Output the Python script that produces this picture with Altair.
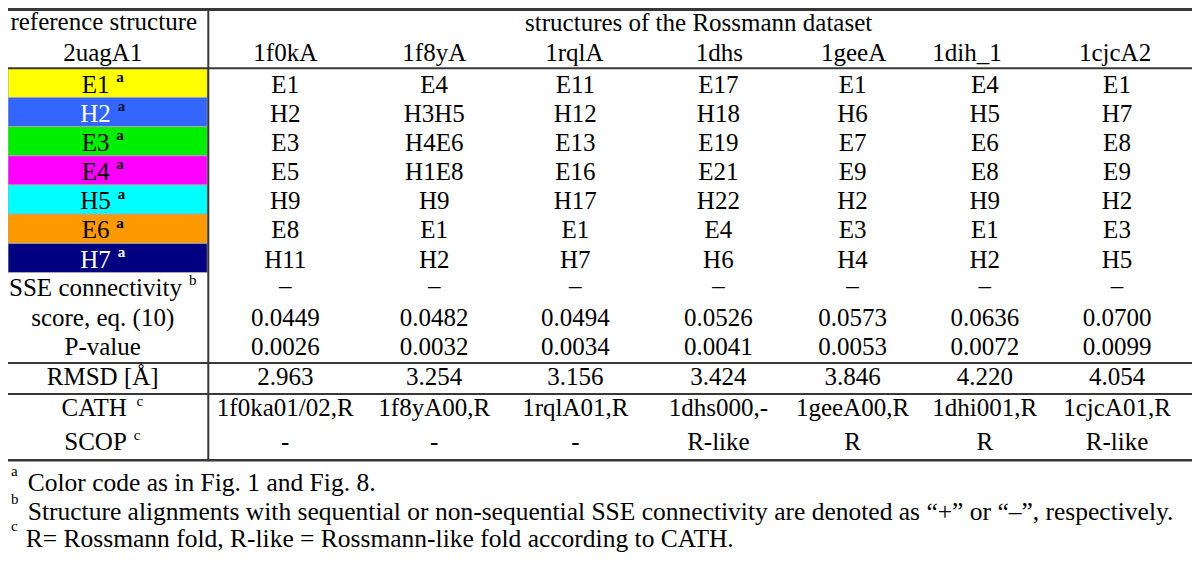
import altair as alt
import pandas as pd

# ---------------- data ----------------
structures = ["1f0kA", "1f8yA", "1rqlA", "1dhs", "1geeA", "1dih_1", "1cjcA2"]
reference_sse = ["E1", "H2", "E3", "E4", "H5", "E6", "H7"]
reference_colors = ["#FFFF00", "#3366FF", "#00EE00", "#FF00FF", "#00FFFF", "#FF9900", "#000080"]
reference_text_colors = ["black", "white", "black", "black", "black", "black", "white"]
reference_sup_colors = ["black", "#101030", "black", "black", "black", "black", "white"]

match_E1 = ["E1", "E4", "E11", "E17", "E1", "E4", "E1"]
match_H2 = ["H2", "H3H5", "H12", "H18", "H6", "H5", "H7"]
match_E3 = ["E3", "H4E6", "E13", "E19", "E7", "E6", "E8"]
match_E4 = ["E5", "H1E8", "E16", "E21", "E9", "E8", "E9"]
match_H5 = ["H9", "H9", "H17", "H22", "H2", "H9", "H2"]
match_E6 = ["E8", "E1", "E1", "E4", "E3", "E1", "E3"]
match_H7 = ["H11", "H2", "H7", "H6", "H4", "H2", "H5"]
connectivity = ["–", "–", "–", "–", "–", "–", "–"]
score = ["0.0449", "0.0482", "0.0494", "0.0526", "0.0573", "0.0636", "0.0700"]
p_value = ["0.0026", "0.0032", "0.0034", "0.0041", "0.0053", "0.0072", "0.0099"]
rmsd = ["2.963", "3.254", "3.156", "3.424", "3.846", "4.220", "4.054"]
cath = ["1f0ka01/02,R", "1f8yA00,R", "1rqlA01,R", "1dhs000,-", "1geeA00,R", "1dhi001,R", "1cjcA01,R"]
scop = ["-", "-", "-", "R-like", "R", "R", "R-like"]

footnotes_sup = ["a", "b", "c"]
footnotes_text = [
    "Color code as in Fig. 1 and Fig. 8.",
    "Structure alignments with sequential or non-sequential SSE connectivity are denoted as \u201c+\u201d or \u201c\u2013\u201d, respectively.",
    "R= Rossmann fold, R-like = Rossmann-like fold according to CATH.",
]

# ---------------- layout ----------------
W, H = 1184, 566
SX = W / 1200.0
FONT = "Liberation Serif"
FS = 25
SUP_FS = 15
FOOT_FS = 25.5
col_x = [281, 432, 575, 720, 856, 990, 1124]
head_x = [281, 432, 574, 721, 857, 972, 1122]
label_cx = 96
row_top = 62
row_h = 30
color_baselines = [row_top + 25 + i * row_h for i in range(7)]
y_conn, y_score, y_p, y_rmsd, y_cath, y_scop = 296, 327, 357, 388, 420, 455

# Times / Liberation Serif advance widths (per 1000 em)
TW = {' ': 250, '(': 333, ')': 333, ',': 250, '-': 333, '.': 250, '/': 278, '[': 333,
      ']': 333, '_': 500, 'Å': 722, '–': 500}
TW.update({d: 500 for d in "0123456789"})
TW.update(dict(zip("ABCDEFGHIJKLMNOPQRSTUVWXYZ",
                   [722, 667, 667, 722, 611, 556, 722, 722, 333, 389, 722, 611, 889, 722, 722,
                    556, 722, 667, 556, 611, 722, 722, 944, 722, 722, 611])))
TW.update(dict(zip("abcdefghijklmnopqrstuvwxyz",
                   [444, 500, 444, 500, 444, 333, 500, 500, 278, 278, 500, 278, 778, 500, 500,
                    500, 500, 333, 389, 278, 500, 500, 722, 500, 500, 444])))


def text_w(s, size):
    return sum(TW.get(c, 500) for c in s) * size / 1000.0 / SX


center_rows = []   # x, y, text, color
left_rows = []     # labels that carry a superscript
sup_rows = []

# header
center_rows.append(dict(x=97, y=23, text="reference structure", color="black"))
center_rows.append(dict(x=96, y=55, text="2uagA1", color="black"))
center_rows.append(dict(x=700, y=24, text="structures of the Rossmann dataset", color="black"))
for s, hx in zip(structures, head_x):
    center_rows.append(dict(x=hx, y=55, text=s, color="black"))


def add_sup_label(label, sup, y, color="black", sup_color="black", bold=True):
    wm = text_w(label, FS)
    ws = 0.5 * SUP_FS / SX
    gap = 7
    start = label_cx - (wm + gap + ws) / 2.0
    left_rows.append(dict(x=start, y=y, text=label, color=color))
    sup_rows.append(dict(x=start + wm + gap, y=y - 11, text=sup, color=sup_color,
                         weight="bold" if bold else "normal"))


match_rows = [match_E1, match_H2, match_E3, match_E4, match_H5, match_E6, match_H7]
for i, sse in enumerate(reference_sse):
    add_sup_label(sse, "a", color_baselines[i], reference_text_colors[i], reference_sup_colors[i])
    for j, v in enumerate(match_rows[i]):
        center_rows.append(dict(x=col_x[j], y=color_baselines[i], text=v, color="black"))

add_sup_label("SSE connectivity", "b", y_conn, bold=False)
add_sup_label("CATH", "c", y_cath, bold=False)
add_sup_label("SCOP", "c", y_scop, bold=False)
center_rows.append(dict(x=96, y=y_score, text="score, eq. (10)", color="black"))
center_rows.append(dict(x=96, y=y_p, text="P-value", color="black"))
center_rows.append(dict(x=96, y=y_rmsd, text="RMSD [Å]", color="black"))

for vals, yy in [(connectivity, y_conn - 2), (score, y_score), (p_value, y_p), (rmsd, y_rmsd),
                 (cath, y_cath), (scop, y_scop)]:
    for j, v in enumerate(vals):
        center_rows.append(dict(x=col_x[j], y=yy, text=v, color="black"))

center_df = pd.DataFrame(center_rows)
left_df = pd.DataFrame(left_rows)
sup_df = pd.DataFrame(sup_rows)

cells_df = pd.DataFrame({
    "x0": [0] * 7, "x1": [202] * 7,
    "y0": [row_top + i * row_h for i in range(7)],
    "y1": [row_top + (i + 1) * row_h for i in range(7)],
    "fill": reference_colors,
})

hlines_df = pd.DataFrame({
    "x0": [0, 0, 0, 0, 0], "x1": [1200] * 5,
    "y": [1.5, 62, 365, 397, 465],
    "w": [3, 2, 2, 2, 2.5],
})
vline_df = pd.DataFrame({"x": [203], "y0": [0], "y1": [466]})

fn_base = [497, 526, 554]
foot_df = pd.DataFrame({"x": [20, 20, 18], "y": fn_base, "text": footnotes_text})
foot_sup_df = pd.DataFrame({"x": [3, 3, 3], "y": [b - 16 for b in fn_base], "text": footnotes_sup})

xs = alt.Scale(domain=[0, 1200], nice=False, zero=False)
ys = alt.Scale(domain=[0, 582], reverse=True, nice=False, zero=False)

cells = alt.Chart(cells_df).mark_rect(stroke="#a8a8a8", strokeWidth=1).encode(
    x=alt.X("x0:Q", scale=xs, axis=None), x2="x1:Q",
    y=alt.Y("y0:Q", scale=ys, axis=None), y2="y1:Q",
    fill=alt.Fill("fill:N", scale=None),
)
hlines = alt.Chart(hlines_df).mark_rule(color="#383838").encode(
    x=alt.X("x0:Q", scale=xs, axis=None), x2="x1:Q",
    y=alt.Y("y:Q", scale=ys, axis=None),
    strokeWidth=alt.StrokeWidth("w:Q", scale=None),
)
vline = alt.Chart(vline_df).mark_rule(color="#383838", strokeWidth=2).encode(
    x=alt.X("x:Q", scale=xs, axis=None),
    y=alt.Y("y0:Q", scale=ys, axis=None), y2="y1:Q",
)
center_txt = alt.Chart(center_df).mark_text(
    font=FONT, fontSize=FS, align="center", baseline="alphabetic").encode(
    x=alt.X("x:Q", scale=xs, axis=None), y=alt.Y("y:Q", scale=ys, axis=None),
    text="text:N", color=alt.Color("color:N", scale=None),
)
left_txt = alt.Chart(left_df).mark_text(
    font=FONT, fontSize=FS, align="left", baseline="alphabetic").encode(
    x=alt.X("x:Q", scale=xs, axis=None), y=alt.Y("y:Q", scale=ys, axis=None),
    text="text:N", color=alt.Color("color:N", scale=None),
)
sup_bold = alt.Chart(sup_df[sup_df.weight == "bold"]).mark_text(
    font=FONT, fontSize=SUP_FS, fontWeight="bold", align="left", baseline="alphabetic").encode(
    x=alt.X("x:Q", scale=xs, axis=None), y=alt.Y("y:Q", scale=ys, axis=None),
    text="text:N", color=alt.Color("color:N", scale=None),
)
sup_norm = alt.Chart(sup_df[sup_df.weight == "normal"]).mark_text(
    font=FONT, fontSize=SUP_FS, align="left", baseline="alphabetic").encode(
    x=alt.X("x:Q", scale=xs, axis=None), y=alt.Y("y:Q", scale=ys, axis=None),
    text="text:N", color=alt.Color("color:N", scale=None),
)
foot = alt.Chart(foot_df).mark_text(
    font=FONT, fontSize=FOOT_FS, align="left", baseline="alphabetic", color="black").encode(
    x=alt.X("x:Q", scale=xs, axis=None), y=alt.Y("y:Q", scale=ys, axis=None), text="text:N",
)
foot_sup = alt.Chart(foot_sup_df).mark_text(
    font=FONT, fontSize=15, align="left", baseline="alphabetic", color="black").encode(
    x=alt.X("x:Q", scale=xs, axis=None), y=alt.Y("y:Q", scale=ys, axis=None), text="text:N",
)

chart = alt.layer(cells, hlines, vline, center_txt, left_txt, sup_bold, sup_norm, foot, foot_sup).properties(
    width=W, height=H, padding=0, autosize=alt.AutoSizeParams(type="none"),
    background="white",
).configure_view(stroke=None)

chart.save("out.html", embed_options={"renderer": "svg", "actions": False})
